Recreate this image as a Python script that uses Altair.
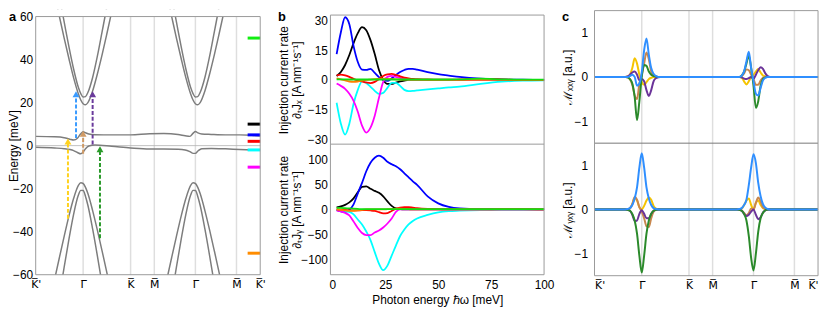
import json
import altair as alt
import pandas as pd

FONT = "Liberation Sans"
FRAME = "#9a9a9a"
GRID = "#dedede"
BANDC = "#7d7d7d"

# ---------------- shared k-path ----------------
S_TICKS = [0.0, 1.0, 2.0, 2.5, 3.366, 4.232, 4.732]
S_LABELS = ["K\u0305'", "\u0393\u0305", "K\u0305", "M\u0305", "\u0393\u0305", "M\u0305", "K\u0305'"]
GAMMA_S = [1.0, 3.366]
PANEL_LABELS = ["a", "b", "c"]

# ---------------- panel a : bands ----------------
K_BAND = [-0.6, -0.5, -0.4, -0.3, -0.2, -0.1, -0.05, 0.0, 0.05, 0.1, 0.2, 0.3, 0.4, 0.5, 0.6]
E_COND_OUT = [70, 60, 50, 40.5, 31.5, 24, 21.2, 19.5, 19, 20, 25.4, 33.3, 42.3, 52, 62]
E_COND_IN = [81, 69, 57.5, 46, 35.5, 27, 24.2, 22.6, 22.8, 24.7, 31.7, 41.6, 53, 64.5, 76.5]
E_VAL_UP = [-62, -52, -42.2, -32.8, -24.5, -18.5, -17.3, -17.6, -19.4, -22.3, -30.2, -39.3, -49, -59, -69.2]
E_VAL_LO = [-83.5, -70, -56.5, -43.6, -31.8, -23, -20.8, -20.9, -23.6, -27.7, -38.7, -51.2, -64.5, -78, -92]
S_FLAT = [0, 0.4, 0.6, 0.72, 0.8, 0.88, 0.95, 1.0, 1.05, 1.12, 1.25, 1.6, 2.0, 2.4, 2.7, 3.0,
          3.15, 3.25, 3.32, 3.366, 3.42, 3.5, 3.7, 4.0, 4.3, 4.55, 4.732]
E_FLAT_UP = [4.3, 4.1, 3.7, 3.0, 2.6, 3.4, 5.5, 6.4, 6.0, 5.4, 5.1, 5.0, 5.0, 5.5, 5.6, 5.2,
             4.6, 4.3, 5.8, 6.6, 5.9, 5.4, 5.2, 5.0, 5.0, 4.8, 4.5]
E_FLAT_LO = [-0.8, -1.1, -1.4, -1.8, -2.3, -3.2, -3.8, -3.0, -1.5, -0.2, 0.3, -0.3, -1.1, -1.6, -1.6, -1.7,
             -2.0, -2.8, -3.6, -3.6, -2.5, -1.4, -1.3, -1.5, -1.8, -2.0, -2.2]
E_ZERO = [0]

# arrows (transitions)
ARROW_NAMES = ["yellow", "blue", "tan", "purple", "green"]
ARROW_COLORS = ["#ffd21f", "#3a9bff", "#d09a64", "#6a3a9c", "#2a9a2a"]
ARROW_S = [0.68, 0.85, 1.0, 1.2, 1.355]
ARROW_FROM = [-34, 3.5, -3.8, 0.5, -43]
ARROW_TO = [3.3, 25.3, 6.9, 25.3, -0.3]
HEAD = 1.4

# chemical-potential markers
BAR_NAMES = ["green", "black", "blue", "red", "cyan", "magenta", "orange"]
BAR_E = [50, 10, 5, 2, -2, -10, -50]
BAR_COLORS = ["#11ee11", "#000000", "#0000ff", "#ff0000", "#00ffff", "#ff00ff", "#ff8c00"]
BAR_S = [4.467, 4.732]

# ---------------- panel b : injection current ----------------
W = [2, 4, 6, 8, 10, 12, 14, 16, 18, 20, 22, 24, 26, 28, 30, 32, 34, 36, 38, 40, 45, 50, 55, 60, 70, 80, 90, 100]
B_SERIES = ["black", "blue", "cyan", "magenta", "red", "orange", "green"]
B_COLORS = ["#000000", "#0000ff", "#00ffff", "#ff00ff", "#ff0000", "#ff8000", "#11dd11"]

JX_BLACK = [2, 4, 7.5, 12.5, 18.5, 23.5, 26.5, 25, 20, 13, 5, 0, -2, -2, -1.3, -0.7, -0.3, 0, 0, 0, 0, 0, 0, 0, 0, 0, 0, 0]
JX_BLUE = [13, 24, 31.5, 28, 17, 9, 5.2, 5, 5.6, 3.5, 1.4, 0, -0.5, 0.8, 2.5, 4, 5, 5.6, 5.6, 5.2, 3.9, 2.9, 2.2, 1.5, 0.6, 0.2, 0.1, 0]
JX_CYAN = [-11.5, -22, -27.5, -22, -12, -5, -0.7, -1.5, -3.5, -5.5, -7, -6.5, -4, -1.5, -1.5, -3, -5, -5.6, -5.5, -5.3, -4.8, -4.3, -3.8, -3.4, -2, -0.9, -0.4, -0.2]
JX_MAGENTA = [-1.8, -3, -4.5, -7, -10.5, -16, -23, -26.5, -24, -18, -9, -1, 1.5, 2, 1.5, 1, 0.5, 0.2, 0, 0, 0, 0, 0, 0, 0, 0, 0, 0]
JX_RED = [2.2, 2.7, 2.3, 1.5, 0.5, -0.3, -0.8, -1.3, -1.6, -1, 0.5, 2, 2.8, 3, 2.5, 1.8, 1.2, 0.8, 0.5, 0.4, 0.2, 0.1, 0.1, 0.2, 0.5, 0.3, 0, 0]
JX_ORANGE = [0.8, 0.3, -0.3, -0.8, -1, -0.8, -0.4, 0, 0.2, 0.4, 0.5, 0.6, 0.5, 0.4, 0.3, 0.2, 0.1, 0.1, 0, 0, 0, 0, 0, 0, 0, 0, 0, 0]
JX_GREEN = [0.3, 0.3, 0.3, 0.2, 0.2, 0.2, 0.2, 0.2, 0.2, 0.2, 0.2, 0.2, 0.2, 0.2, 0.2, 0.2, 0.2, 0.2, 0.2, 0.2, 0.2, 0.2, 0.2, 0.3, 0.6, 0.3, 0.1, 0.1]

JY_BLACK = [4, 6, 9, 14, 22, 34, 45, 46, 41, 37, 33, 26, 16, 7, 2, 0.5, 0, 0, 0, 0, 0, 0, 0, 0, 0, 0, 0, 0]
JY_BLUE = [-1, -4, -5, -1, 10, 32, 53, 76, 93, 103, 107, 103, 95, 90, 86, 80, 72, 64, 56, 49, 26, 12, 5, 2, 0.5, 0.3, 0.2, 0]
JY_CYAN = [-1, -2, -3, -5, -10, -20, -30, -44, -61, -85, -108, -121, -112, -92, -72, -53, -40, -30, -23, -18, -11, -6, -3.5, -2.5, -1.2, -0.6, -0.3, -0.1]
JY_MAGENTA = [-2.5, -4, -7, -12, -24, -37, -47, -51, -51, -46, -42, -36, -28, -18, -5, 0, 0, 0, 0, 0, 0, 0, 0, 0, 0, 0, 0, 0]
JY_RED = [0, -0.5, -1, -1.5, -2, -2, -1.5, -1.5, -2, -3, -5.5, -8, -7.5, -3, 1, 3.5, 4.5, 4.5, 3.5, 2.5, 1, 0.5, 0, 0, 0, 0.5, 0.5, 0]
JY_ORANGE = [0, -1, -2, -3, -3, -2, -1, 0, 0, 0, 0, 0, 0.5, 1, 1.5, 1.5, 1, 0.5, 0, 0, 0, 0, 0, 0, 0, 0, 0, 0]
JY_GREEN = [3, 3, 2.5, 2, 1.5, 1, 0.5, 0.5, 0.5, 0.5, 0.5, 0.5, 0.5, 0.5, 0.5, 0.5, 0.5, 0.5, 0.5, 0.5, 0.5, 0.5, 0.5, 0.5, 0.5, 0.5, 0.5, 0.5]

# ---------------- panel c : M tensor along the path ----------------
K_C = [-0.4, -0.35, -0.3, -0.25, -0.2, -0.15, -0.1, -0.05, 0.0, 0.05, 0.1, 0.15, 0.2, 0.25, 0.3, 0.35, 0.4]
C_ENDS = [0.0, 4.732]
C_SERIES = ["yellow", "tan", "purple", "green", "blue"]
C_COLORS = ["#f5c400", "#c8874e", "#6b3399", "#2b8a2b", "#2f8fff"]

MXXY1_YELLOW = [0, 0, 0.01, 0.05, 0.2, 0.42, 0.3, 0.05, -0.12, -0.18, -0.12, -0.05, -0.02, 0, 0, 0, 0]
MXXY1_TAN = [0, 0, -0.01, -0.05, -0.18, -0.42, -0.5, -0.15, 0.05, 0.3, 0.55, 0.4, 0.12, 0.03, 0.01, 0, 0]
MXXY1_PURPLE = [0, 0, 0.01, 0.05, 0.1, 0.12, 0.05, -0.08, -0.05, -0.1, -0.3, -0.43, -0.3, -0.1, -0.03, -0.01, 0]
MXXY1_GREEN = [0, 0, -0.01, -0.05, -0.15, -0.45, -0.98, -0.55, 0.0, 0.27, 0.25, 0.12, 0.05, 0.02, 0.01, 0, 0]
MXXY1_BLUE = [0, 0, 0, 0.02, 0.05, 0.0, -0.2, -0.15, 0.1, 0.6, 0.87, 0.5, 0.2, 0.07, 0.02, 0, 0]

MXXY2_YELLOW = [0, 0, 0, -0.02, -0.1, -0.17, -0.1, 0.0, 0.05, 0.12, 0.18, 0.1, 0.03, 0.01, 0, 0, 0]
MXXY2_TAN = [0, 0, 0, 0.02, 0.08, 0.17, 0.15, 0.05, -0.05, -0.18, -0.18, -0.08, -0.02, 0, 0, 0, 0]
MXXY2_PURPLE = [0, 0, 0, -0.01, -0.04, -0.05, -0.03, 0.0, -0.05, 0.05, 0.15, 0.22, 0.18, 0.08, 0.02, 0, 0]
MXXY2_GREEN = [0, 0, 0, 0.03, 0.12, 0.3, 0.48, 0.2, -0.2, -0.7, -0.55, -0.2, -0.05, -0.01, 0, 0, 0]
MXXY2_BLUE = [0, 0, 0, 0.03, 0.12, 0.35, 0.57, 0.2, -0.1, -0.38, -0.42, -0.25, -0.08, -0.02, 0, 0, 0]

MYXY1_YELLOW = [0, 0, 0, 0.02, 0.12, 0.26, 0.2, 0.05, 0.0, 0.08, 0.2, 0.27, 0.22, 0.08, 0.02, 0, 0]
MYXY1_TAN = [0, 0, 0, 0.03, 0.12, 0.28, 0.22, 0.05, -0.05, -0.2, -0.38, -0.4, -0.2, -0.05, -0.01, 0, 0]
MYXY1_PURPLE = [0, 0, -0.01, -0.03, -0.12, -0.26, -0.25, -0.1, -0.02, -0.1, -0.2, -0.2, -0.1, -0.03, -0.01, 0, 0]
MYXY1_GREEN = [0, 0, -0.01, -0.03, -0.1, -0.25, -0.55, -1.05, -1.43, -1.05, -0.55, -0.25, -0.1, -0.03, -0.01, 0, 0]
MYXY1_BLUE = [0, 0, 0.01, 0.03, 0.1, 0.25, 0.5, 0.95, 1.27, 0.95, 0.5, 0.25, 0.1, 0.03, 0.01, 0, 0]

MYXY2_YELLOW = [0, 0, 0, 0.02, 0.1, 0.2, 0.25, 0.1, 0.0, 0.15, 0.2, 0.1, 0.03, 0.01, 0, 0, 0]
MYXY2_TAN = [0, 0, 0, -0.02, -0.08, -0.13, -0.08, 0.02, 0.0, 0.15, 0.27, 0.18, 0.05, 0.01, 0, 0, 0]
MYXY2_PURPLE = [0, 0, -0.01, -0.03, -0.1, -0.15, -0.12, -0.05, 0.0, -0.12, -0.22, -0.18, -0.07, -0.02, 0, 0, 0]
MYXY2_GREEN = [0, 0, -0.01, -0.03, -0.1, -0.25, -0.6, -1.1, -1.38, -1.0, -0.5, -0.2, -0.08, -0.02, 0, 0, 0]
MYXY2_BLUE = [0, 0, 0.01, 0.03, 0.1, 0.22, 0.55, 0.95, 1.25, 1.05, 0.6, 0.3, 0.12, 0.04, 0.01, 0, 0]

# ======================================================================
LABEL_EXPR = (json.dumps(S_LABELS, ensure_ascii=False) + "[indexof(" + json.dumps(S_TICKS) + ", datum.value)]")
one = pd.DataFrame({"t": [""]})


def hrule(x1, x2, y, color=FRAME, w=1.0):
    return alt.Chart(one).mark_rule(color=color, strokeWidth=w).encode(
        x=alt.value(x1), x2=alt.value(x2), y=alt.value(y))


def vrule(x, y1, y2, color=FRAME, w=1.0):
    return alt.Chart(one).mark_rule(color=color, strokeWidth=w).encode(
        x=alt.value(x), y=alt.value(y1), y2=alt.value(y2))


def panel_label(txt, x, y=1):
    return alt.Chart(pd.DataFrame({"t": [txt]})).mark_text(
        font=FONT, fontSize=13, fontWeight="bold", align="left", baseline="top", color="black"
    ).encode(text="t:N", x=alt.value(x), y=alt.value(y))


def path_axis(flush):
    return alt.Axis(values=S_TICKS, labelExpr=LABEL_EXPR, title=None, labelFlush=flush,
                    labelPadding=4, labelOverlap=False, labelFont="DejaVu Sans", labelFontSize=11)


# ---------------- chart a ----------------
rows = []
for gi, g in enumerate(GAMMA_S):
    for name, vals in [("co", E_COND_OUT), ("ci", E_COND_IN), ("vu", E_VAL_UP), ("vl", E_VAL_LO)]:
        for k, e in zip(K_BAND, vals):
            rows.append({"s": g + k, "E": e, "band": f"{name}{gi}"})
for name, vals in [("fu", E_FLAT_UP), ("fl", E_FLAT_LO)]:
    for s, e in zip(S_FLAT, vals):
        rows.append({"s": s, "E": e, "band": name})
df_bands = pd.DataFrame(rows)

df_arrows = pd.DataFrame({
    "s": ARROW_S, "E": ARROW_FROM, "E2": [t - HEAD for t in ARROW_TO],
    "name": ARROW_NAMES,
})
df_bars = pd.DataFrame({"s": [BAR_S[0]] * len(BAR_E), "s2": [BAR_S[1]] * len(BAR_E), "E": BAR_E, "name": BAR_NAMES})
df_grid = pd.DataFrame({"s": S_TICKS[1:-1]})
df_zero = pd.DataFrame({"E": E_ZERO})

AX_A_Y = alt.Axis(values=[-60, -40, -20, 0, 20, 40, 60], title="Energy [meV]", titleX=-15,
                  labelPadding=3, labelOverlap=False)
SC_A_Y = alt.Scale(domain=[-60, 60], range=[268, 7], nice=False, zero=False)
xa = alt.X("s:Q", scale=alt.Scale(domain=[0, 4.732], nice=False, zero=False), axis=path_axis(False))
ya = alt.Y("E:Q", scale=SC_A_Y, axis=AX_A_Y)

a_grid = alt.Chart(df_grid).mark_rule(color=GRID, strokeWidth=1.5).encode(
    x=xa, y=alt.value(7), y2=alt.value(268))
a_zero = alt.Chart(df_zero).mark_rule(color="#b0b0b0", strokeWidth=0.8).encode(
    x=alt.value(0), x2=alt.value(227), y=ya)
a_bands = alt.Chart(df_bands).mark_line(clip=True, color=BANDC, strokeWidth=1.5, interpolate="monotone").encode(
    x=xa, y=ya, detail="band:N")
a_mask = alt.Chart(one).mark_rect(color="white").encode(
    x=alt.value(0), x2=alt.value(227), y=alt.value(0), y2=alt.value(7))
arrow_color = alt.Color("name:N", scale=alt.Scale(domain=ARROW_NAMES, range=ARROW_COLORS), legend=None)
a_shafts = alt.Chart(df_arrows).mark_rule(strokeWidth=2, strokeDash=[4, 2]).encode(
    x=xa, y=ya, y2="E2:Q", color=arrow_color)
a_heads = alt.Chart(df_arrows).mark_point(shape="triangle-up", filled=True, size=49, opacity=1).encode(
    x=xa, y=alt.Y("E2:Q", scale=SC_A_Y, axis=AX_A_Y), color=arrow_color)
a_bars = alt.Chart(df_bars).mark_rule(strokeWidth=3).encode(
    x=xa, x2="s2:Q", y=ya,
    color=alt.Color("name:N", scale=alt.Scale(domain=BAR_NAMES, range=BAR_COLORS), legend=None))
chart_a = alt.layer(
    a_grid, a_zero, a_bands, a_mask, a_shafts, a_heads, a_bars,
    hrule(0, 227, 7), hrule(0, 227, 268), vrule(0, 7, 268), vrule(227, 7, 268),
    panel_label(PANEL_LABELS[0], -27),
).resolve_scale(color="independent").properties(width=227, height=268)

# ---------------- chart b ----------------
def long_df(lists, xs, xname, yname):
    r = []
    for name, vals in zip(B_SERIES, lists):
        for x, v in zip(xs, vals):
            r.append({xname: x, yname: v, "series": name})
    return pd.DataFrame(r)


df_jx = long_df([JX_BLACK, JX_BLUE, JX_CYAN, JX_MAGENTA, JX_RED, JX_ORANGE, JX_GREEN], W, "w", "J")
df_jy = long_df([JY_BLACK, JY_BLUE, JY_CYAN, JY_MAGENTA, JY_RED, JY_ORANGE, JY_GREEN], W, "w", "J")

xb = alt.X("w:Q", scale=alt.Scale(domain=[-0.93, 100], nice=False, zero=False),
           axis=alt.Axis(values=[0, 25, 50, 75, 100], title="Photon energy \u210f\u03c9 [meV]",
                         labelPadding=5, titlePadding=4, labelFlush=False, labelOverlap=False))
cb = alt.Color("series:N", scale=alt.Scale(domain=B_SERIES, range=B_COLORS), legend=None)

b_top = alt.Chart(df_jx).mark_line(strokeWidth=1.8, interpolate="monotone").encode(
    x=xb,
    y=alt.Y("J:Q", scale=alt.Scale(domain=[-32.3, 32.6], range=[136, 5.5], nice=False, zero=False),
            axis=alt.Axis(orient="left", values=[-30, -15, 0, 15, 30],
                          title=["Injection current rate", "\u2202\u209cJ\u2093 [A nm\u207b\u00b9s\u207b\u00b9]"],
                          titleX=-40, titleLineHeight=13, labelPadding=3, labelOverlap=False)),
    color=cb)
b_bot = alt.Chart(df_jy).mark_line(strokeWidth=1.8, interpolate="monotone").encode(
    x=xb,
    y=alt.Y("J:Q", scale=alt.Scale(domain=[-130, 130], range=[268, 136], nice=False, zero=False),
            axis=alt.Axis(orient="left", values=[-100, -50, 0, 50, 100],
                          title=["Injection current rate", "\u2202\u209cJ\u1d67 [A nm\u207b\u00b9s\u207b\u00b9]"],
                          titleX=-40, titleLineHeight=13, labelPadding=3, labelOverlap=False)),
    color=cb)
chart_b = alt.layer(
    b_top, b_bot,
    hrule(0, 216, 5.5), hrule(0, 216, 136), hrule(0, 216, 268),
    vrule(0, 5.5, 268), vrule(216, 5.5, 268),
    panel_label(PANEL_LABELS[1], -53),
).resolve_scale(y="independent").properties(width=216, height=268)

# ---------------- chart c ----------------
def c_df(g1_lists, g2_lists):
    r = []
    for name, l1, l2 in zip(C_SERIES, g1_lists, g2_lists):
        r.append({"s": C_ENDS[0], "M": 0, "series": name})
        for k, v in zip(K_C, l1):
            r.append({"s": GAMMA_S[0] + k, "M": v, "series": name})
        for k, v in zip(K_C, l2):
            r.append({"s": GAMMA_S[1] + k, "M": v, "series": name})
        r.append({"s": C_ENDS[1], "M": 0, "series": name})
    return pd.DataFrame(r)


df_mxxy = c_df([MXXY1_YELLOW, MXXY1_TAN, MXXY1_PURPLE, MXXY1_GREEN, MXXY1_BLUE],
               [MXXY2_YELLOW, MXXY2_TAN, MXXY2_PURPLE, MXXY2_GREEN, MXXY2_BLUE])
df_myxy = c_df([MYXY1_YELLOW, MYXY1_TAN, MYXY1_PURPLE, MYXY1_GREEN, MYXY1_BLUE],
               [MYXY2_YELLOW, MYXY2_TAN, MYXY2_PURPLE, MYXY2_GREEN, MYXY2_BLUE])

xc = alt.X("s:Q", scale=alt.Scale(domain=[0, 4.732], nice=False, zero=False), axis=path_axis(True))
cc = alt.Color("series:N", scale=alt.Scale(domain=C_SERIES, range=C_COLORS), legend=None)

c_grid = alt.Chart(df_grid).mark_rule(color=GRID, strokeWidth=1.5).encode(
    x=xc, y=alt.value(1), y2=alt.value(269))
c_top = alt.Chart(df_mxxy).mark_line(strokeWidth=2, interpolate="monotone").encode(
    x=xc,
    y=alt.Y("M:Q", scale=alt.Scale(domain=[-1.5, 1.5], range=[135, 1], nice=False, zero=False),
            axis=alt.Axis(orient="left", values=[-1, 0, 1], title="\u2133\u2093\u2093\u1d67 [a.u.]",
                          titleX=-20, labelPadding=7, labelOverlap=False)),
    color=cc)
c_bot = alt.Chart(df_myxy).mark_line(strokeWidth=2, interpolate="monotone").encode(
    x=xc,
    y=alt.Y("M:Q", scale=alt.Scale(domain=[-1.5, 1.5], range=[269, 135], nice=False, zero=False),
            axis=alt.Axis(orient="left", values=[-1, 0, 1], title="\u2133\u1d67\u2093\u1d67 [a.u.]",
                          titleX=-20, labelPadding=7, labelOverlap=False)),
    color=cc)
chart_c = alt.layer(
    c_grid, c_top, c_bot,
    hrule(0, 226, 1), hrule(0, 226, 135, color="#777777"), hrule(0, 226, 269),
    vrule(0, 1, 269), vrule(226, 1, 269),
    panel_label(PANEL_LABELS[2], -33),
).resolve_scale(y="independent").properties(width=226, height=269)


def spacer(w):
    return alt.Chart(one).mark_point(opacity=0, size=0).encode(
        x=alt.value(5), y=alt.value(5)).properties(width=w, height=268)


chart = alt.hconcat(chart_a, spacer(71), chart_b, spacer(51), chart_c, spacing=0, bounds="flush").resolve_scale(
    color="independent"
).properties(
    padding=0
).configure_view(stroke=None).configure_axis(
    labelFont=FONT, labelFontSize=12, labelColor="black",
    titleFont=FONT, titleFontSize=12, titleFontWeight="normal", titleColor="black",
    ticks=False, domain=False, grid=False, labelOverlap=False,
)

chart.save("out.html", embed_options={"renderer": "svg", "actions": False})
